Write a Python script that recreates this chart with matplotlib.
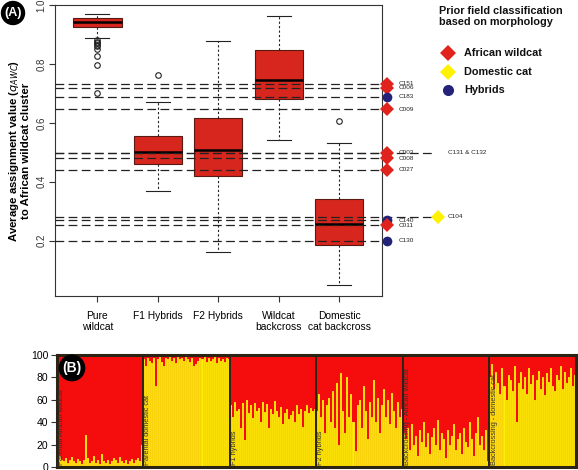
import matplotlib.pyplot as plt
from matplotlib.lines import Line2D
import numpy as np

plt.rcParams['font.family'] = ['Liberation Sans', 'DejaVu Sans']

# --- panel A: boxplots of q_AWC per simulated class ---
categories = ["Pure\nwildcat", "F1 Hybrids", "F2 Hybrids", "Wildcat\nbackcross", "Domestic\ncat backcross"]
q1 = [0.926, 0.459, 0.419, 0.681, 0.185]
med = [0.944, 0.502, 0.509, 0.746, 0.258]
q3 = [0.956, 0.556, 0.615, 0.848, 0.342]
whislo = [0.889, 0.370, 0.160, 0.541, 0.049]
whishi = [0.970, 0.671, 0.877, 0.963, 0.530]
fliers = [[0.880, 0.875, 0.870, 0.865, 0.860, 0.850, 0.826, 0.798, 0.703],
          [0.763], [], [], [0.605]]

# field samples (reference lines)
ref_ids = ["C151", "C006", "C183", "C009", "C003", "C008", "C027",
           "C131 & C132", "C104", "C140", "C011", "C130"]
ref_vals = [0.732, 0.720, 0.689, 0.647, 0.499, 0.479, 0.440,
            0.499, 0.281, 0.270, 0.253, 0.200]
ref_class = ["African wildcat", "African wildcat", "Hybrids", "African wildcat",
             "African wildcat", "African wildcat", "African wildcat",
             None, "Domestic cat", "Hybrids", "African wildcat", "Hybrids"]
ref_far = [False, False, False, False, False, False, False,
           True, True, False, False, False]

legend_labels = ["African wildcat", "Domestic cat", "Hybrids"]
legend_marker = {"African wildcat": ("D", "#e0231c", 7.5),
                 "Domestic cat": ("D", "#fff200", 7.5),
                 "Hybrids": ("o", "#23237a", 7)}

# --- panel B: STRUCTURE bar plot, % domestic cat ancestry per individual ---
group_names = ["Parental African wildcat", "Parental domestic cat", "F1 hybrids",
               "F2 hybrids", "Backcrossing - African wildcat", "Backcrossing - domestic cat"]
pct_wildcat_parent = [12, 10, 6, 5, 8, 4, 6, 9, 5, 4, 7, 5, 3, 6, 29, 8, 4, 5, 10, 4, 6, 3,
                      12, 5, 4, 6, 3, 5, 8, 6, 4, 9, 5, 4, 6, 3, 5, 7, 4, 6, 8, 5, 20]
pct_domestic_parent = [96, 90, 97, 95, 93, 97, 72, 96, 98, 94, 90, 97, 96, 98, 95, 97, 93, 98,
                       96, 97, 95, 98, 96, 94, 97, 90, 92, 95, 97, 96, 98, 94, 97, 95, 96, 98,
                       93, 97, 95, 96, 94, 97, 96]
pct_f1 = [55, 45, 58, 50, 52, 35, 57, 24, 60, 48, 55, 44, 57, 50, 53, 40, 58, 49, 56, 35, 52,
          47, 59, 50, 45, 54, 38, 48, 52, 43, 46, 50, 40, 55, 47, 52, 36, 50, 55, 48, 53, 50, 52]
pct_f2 = [50, 65, 45, 60, 30, 55, 62, 40, 68, 35, 75, 20, 84, 50, 30, 80, 45, 65, 40, 14, 55,
          60, 35, 72, 50, 25, 58, 45, 78, 40, 62, 30, 55, 70, 45, 60, 38, 66, 50, 35, 58, 45, 52]
pct_bc_wild = [30, 25, 35, 15, 38, 20, 28, 10, 33, 22, 40, 18, 30, 12, 27, 35, 20, 42, 15, 30,
               25, 8, 33, 20, 28, 38, 15, 25, 30, 12, 35, 22, 18, 40, 25, 10, 30, 45, 20, 28,
               15, 33, 5]
pct_bc_dom = [80, 92, 70, 85, 75, 65, 88, 72, 60, 82, 78, 68, 90, 40, 75, 85, 70, 80, 65, 88,
              74, 82, 60, 78, 86, 70, 80, 64, 84, 76, 88, 72, 68, 82, 78, 90, 70, 85, 75, 80,
              88, 72, 82]
groups = [pct_wildcat_parent, pct_domestic_parent, pct_f1, pct_f2, pct_bc_wild, pct_bc_dom]

box_red = "#d7261e"
bar_red = "#f50d0d"
bar_yellow = "#fff200"

fig = plt.figure(figsize=(5.78, 4.70), dpi=100)

# ---------- panel A ----------
ax = fig.add_axes([0.0952, 0.3702, 0.566, 0.619])
stats = []
for i in range(len(categories)):
    stats.append(dict(med=med[i], q1=q1[i], q3=q3[i], whislo=whislo[i],
                      whishi=whishi[i], fliers=fliers[i]))
pos = np.arange(1, len(categories) + 1)
ax.bxp(stats, positions=pos, widths=0.8, capwidths=0.4, patch_artist=True,
       boxprops=dict(facecolor=box_red, edgecolor="#5a1a14", linewidth=0.8),
       medianprops=dict(color="black", linewidth=1.8),
       whiskerprops=dict(color="#222222", linestyle=(0, (2, 2)), linewidth=0.8),
       capprops=dict(color="#222222", linewidth=0.8),
       flierprops=dict(marker="o", markerfacecolor="none", markeredgecolor="#222222",
                       markersize=4, markeredgewidth=0.8))

x0, x1 = 0.3, 5.71
x_mark, x_lab = 5.79, 5.99
x_far_mark, x_far_lab = 6.64, 6.80
for rid, v, cls, far in zip(ref_ids, ref_vals, ref_class, ref_far):
    xe = x_far_mark if far else x_mark
    if far and cls is None:
        xe = 6.54
    ax.plot([x0, xe], [v, v], color="#222222", lw=0.9, ls=(0, (7, 3.5)),
            clip_on=False, zorder=4)
    if cls is not None:
        m, c, s = legend_marker[cls]
        ax.plot([xe], [v], marker=m, color=c, markersize=s, markeredgewidth=0,
                clip_on=False, zorder=6)
    ax.text(x_far_lab if far else x_lab, v, rid, fontsize=4.6, va="center",
            ha="left", color="#222222", clip_on=False)

ax.set_xlim(x0, x1)
ax.set_ylim(0.012, 1.0)
ax.set_xticks(pos)
ax.set_xticklabels(categories, fontsize=7.4, linespacing=1.1)
ax.set_yticks([0.2, 0.4, 0.6, 0.8, 1.0])
ax.set_yticklabels(["0.2", "0.4", "0.6", "0.8", "1.0"], fontsize=7, rotation=90,
                   va="center", color="#333333")
ax.tick_params(length=4, width=0.8, color="#333333", pad=2)
ax.tick_params(axis="x", pad=7)
for sp in ax.spines.values():
    sp.set_linewidth(0.8)
    sp.set_color("#333333")
ax.set_ylabel("Average assignment value ($q_{AWC}$)\nto African wildcat cluster",
              fontsize=8.2, weight="bold", linespacing=1.0, labelpad=4)

fig.text(13 / 578, 1 - 13 / 470, "(A)", color="white", weight="bold", fontsize=9,
         ha="center", va="center",
         bbox=dict(boxstyle="circle,pad=0.22", fc="black", ec="black"))

# legend
fig.text(439 / 578, 1 - 6 / 470, "Prior field classification\nbased on morphology",
         fontsize=7.8, weight="bold", ha="left", va="top", linespacing=1.15, color="#111111")
leg_y = [53, 72, 90]
for lab, yp in zip(legend_labels, leg_y):
    m, c, s = legend_marker[lab]
    fig.add_artist(Line2D([448 / 578], [1 - yp / 470], marker=m, color=c, markersize=s + 1,
                          markeredgewidth=0, transform=fig.transFigure))
    fig.text(464 / 578, 1 - yp / 470, lab, fontsize=7.8, weight="bold", ha="left",
             va="center", color="#111111")

# ---------- panel B ----------
ax2 = fig.add_axes([0.0978, 0.0064, 0.8987, 0.2383])
start = 0
for name, vals in zip(group_names, groups):
    xs = np.arange(start, start + len(vals)) + 0.5
    yv = np.array(vals, dtype=float)
    ax2.bar(xs, yv, width=1.0, color=bar_yellow, edgecolor="#f0a020", linewidth=0.3)
    ax2.bar(xs, 100 - yv, bottom=yv, width=1.0, color=bar_red, linewidth=0)
    ax2.text(start + 0.6, 1.5, name, rotation=90, fontsize=5.3, ha="left", va="bottom",
             color="#333333")
    if start > 0:
        ax2.axvline(start, color="#2b2314", lw=1.4, zorder=5)
    start += len(vals)

ax2.set_xlim(0, start)
ax2.set_ylim(0, 100)
ax2.set_xticks([])
ax2.set_yticks([0, 20, 40, 60, 80, 100])
ax2.tick_params(axis="y", labelsize=7.5, length=4, width=0.8, color="#333333", pad=2)
for sp in ax2.spines.values():
    sp.set_linewidth(2.2)
    sp.set_color("#2b2314")

fig.text(72 / 578, 1 - 368 / 470, "(B)", color="white", weight="bold", fontsize=10,
         ha="center", va="center",
         bbox=dict(boxstyle="circle,pad=0.22", fc="black", ec="black"))

fig.savefig("out.png", dpi=100)
